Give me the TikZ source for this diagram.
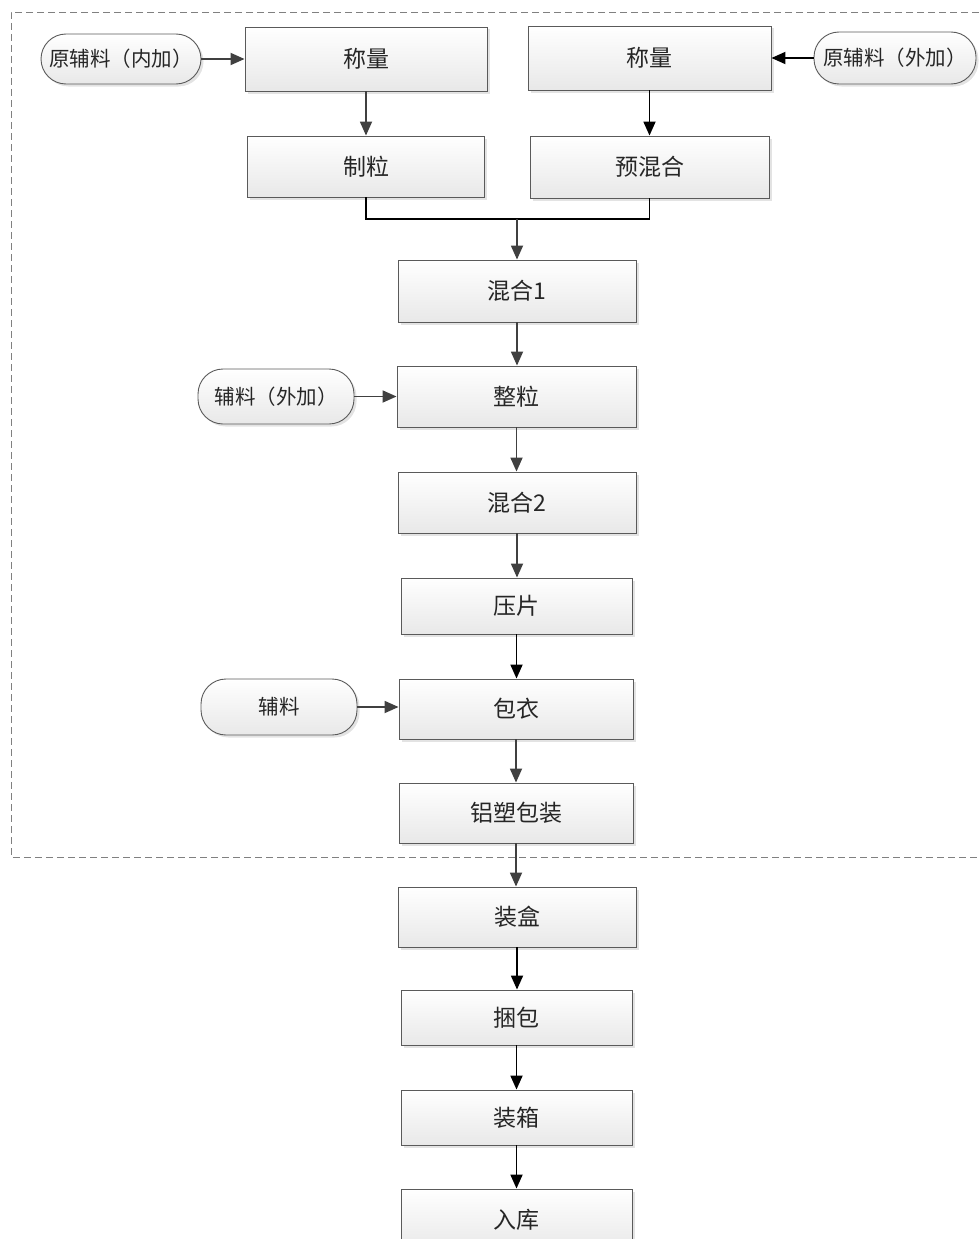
\documentclass[tikz,border=0pt]{standalone}
\usepackage{fontspec}
\setmainfont{Noto Sans CJK SC}
\usetikzlibrary{arrows.meta,shadows}
\definecolor{lnc}{HTML}{404040}
\definecolor{bdc}{HTML}{5A5A5A}
\definecolor{txc}{HTML}{262626}
\tikzset{
  proc/.style={draw=bdc, line width=0.9pt, top color=white, bottom color=black!9,
    inner sep=0pt, text=txc, font=\fontsize{23}{23}\selectfont,
    drop shadow={shadow xshift=2.5pt, shadow yshift=-2.5pt, fill=black!18, opacity=0.6}},
  pill/.style={proc, rounded corners=25pt, font=\fontsize{20.5}{20.5}\selectfont},
  flow/.style={-{Triangle[length=14pt,width=12pt]}, line width=1.8pt, draw=lnc},
  flowk/.style={flow, draw=black},
  frame/.style={draw=black!50, line width=0.9pt, dash pattern=on 7pt off 4pt}
}
\begin{document}
\begin{tikzpicture}[x=1pt,y=-1pt]
\useasboundingbox (0,0) rectangle (979,1239);
\draw[frame] (979,12) -- (11,12) -- (11,857) -- (979,857);

\node[pill, minimum width=160pt, minimum height=50pt] (yl1) at (121,59) {原辅料（内加）};
\node[proc, minimum width=242pt, minimum height=64pt] (cl1) at (366,59) {称量};
\node[proc, minimum width=237pt, minimum height=61pt] (zl) at (366,166.5) {制粒};
\node[proc, minimum width=243pt, minimum height=64pt] (cl2) at (649.5,58) {称量};
\node[pill, minimum width=162pt, minimum height=52pt] (yl2) at (895,58) {原辅料（外加）};
\node[proc, minimum width=239pt, minimum height=62pt] (yhh) at (649.5,167) {预混合};
\node[proc, minimum width=238pt, minimum height=62pt] (h1) at (517,291) {混合1};
\node[pill, minimum width=156pt, minimum height=55pt] (fl1) at (276,396.5) {辅料（外加）};
\node[proc, minimum width=239pt, minimum height=61pt] (zheng) at (516.5,396.5) {整粒};
\node[proc, minimum width=238pt, minimum height=61pt] (h2) at (517,502.5) {混合2};
\node[proc, minimum width=231pt, minimum height=56pt] (yp) at (516.5,606) {压片};
\node[pill, minimum width=156pt, minimum height=56pt] (fl2) at (279,707) {辅料};
\node[proc, minimum width=234pt, minimum height=60pt] (by) at (516,709) {包衣};
\node[proc, minimum width=234pt, minimum height=60pt] (lsbz) at (516,813) {铝塑包装};
\node[proc, minimum width=238pt, minimum height=60pt] (zh) at (517,917) {装盒};
\node[proc, minimum width=231pt, minimum height=55pt] (kb) at (516.5,1017.5) {捆包};
\node[proc, minimum width=231pt, minimum height=55pt] (zx) at (516.5,1117.5) {装箱};
\node[proc, minimum width=231pt, minimum height=62pt] (rk) at (516.5,1220) {入库};

\coordinate (m) at (517,219);

\draw[flow] (yl1.east) -- (yl1.east -| cl1.west);
\draw[flowk] (yl2.west) -- (yl2.west -| cl2.east);
\draw[flow] (cl1.south) -- (zl.north);
\draw[flowk] (cl2.south) -- (yhh.north);
\draw[line width=1.8pt, draw=black] (zl.south) |- (m) -| (yhh.south);
\draw[flow] (m) -- (h1.north);
\draw[flow] (h1.south) -- (h1.south |- zheng.north);
\draw[flow] (fl1.east) -- (fl1.east -| zheng.west);
\draw[flow] (zheng.south) -- (zheng.south |- h2.north);
\draw[flow] (h2.south) -- (h2.south |- yp.north);
\draw[flowk] (yp.south) -- (yp.south |- by.north);
\draw[flow] (fl2.east) -- (fl2.east -| by.west);
\draw[flow] (by.south) -- (lsbz.north);
\draw[flow] (lsbz.south) -- (lsbz.south |- zh.north);
\draw[flowk] (zh.south) -- (zh.south |- kb.north);
\draw[flowk] (kb.south) -- (kb.south |- zx.north);
\draw[flowk] (zx.south) -- (zx.south |- rk.north);
\end{tikzpicture}
\end{document}
